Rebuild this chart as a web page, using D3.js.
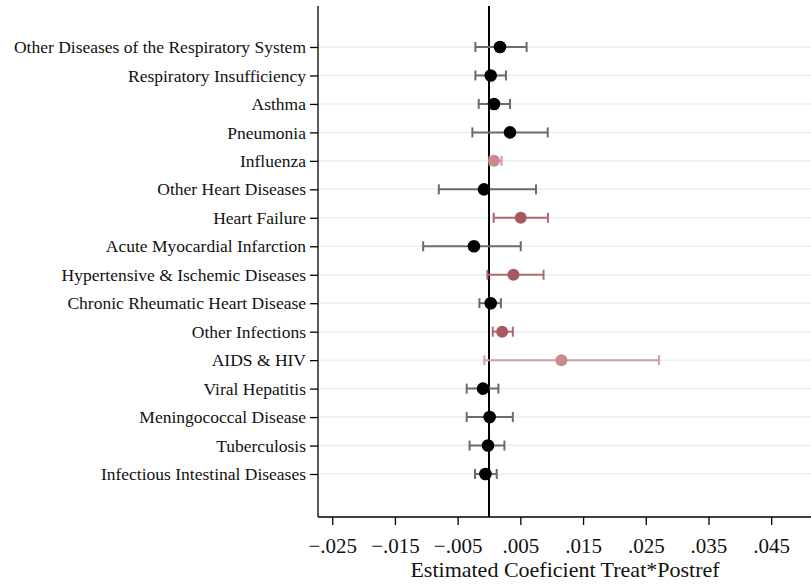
<!DOCTYPE html>
<html>
<head>
<meta charset="utf-8">
<script src="https://cdn.jsdelivr.net/npm/d3@7"></script>
<style>
  html, body { margin: 0; padding: 0; background: #fff; }
  text { font-family: "Liberation Serif", "Times New Roman", serif; }
</style>
</head>
<body>
<svg id="chart" width="811" height="584"></svg>
<script>
// Cause-of-death categories, top to bottom
const categories = [
  "Other Diseases of the Respiratory System",
  "Respiratory Insufficiency",
  "Asthma",
  "Pneumonia",
  "Influenza",
  "Other Heart Diseases",
  "Heart Failure",
  "Acute Myocardial Infarction",
  "Hypertensive & Ischemic Diseases",
  "Chronic Rheumatic Heart Disease",
  "Other Infections",
  "AIDS & HIV",
  "Viral Hepatitis",
  "Meningococcal Disease",
  "Tuberculosis",
  "Infectious Intestinal Diseases"
];

// Point estimates and confidence bounds
const estimates = [0.00175, 0.00027, 0.0008, 0.00335, 0.0008, -0.0008, 0.00506, -0.0024, 0.0039, 0.00027, 0.0021, 0.01155, -0.00096, 0.0001, -0.00016, -0.00057];
const lower     = [-0.00217, -0.00217, -0.00164, -0.00265, 0.0001, -0.0080, 0.00075, -0.0105, -0.00026, -0.00153, 0.0006, -0.00074, -0.00356, -0.00356, -0.0031, -0.00223];
const upper     = [0.0060, 0.0027, 0.00335, 0.00936, 0.0020, 0.0075, 0.0094, 0.00506, 0.0087, 0.0019, 0.0038, 0.0271, 0.0015, 0.0038, 0.00246, 0.00123];
// Significance group: 0 = not significant, 1 = significant, 2 = weakly significant
const significance = [0, 0, 0, 0, 2, 0, 1, 0, 1, 0, 1, 2, 0, 0, 0, 0];

const xTicks = [-0.025, -0.015, -0.005, 0.005, 0.015, 0.025, 0.035, 0.045];
const xTitle = "Estimated Coeficient Treat*Postref";

const pointFill = ["#000000", "#a65a5e", "#c98b90"];
const barStroke = ["#6b6b6b", "#b0696d", "#cf9ea2"];

const svg = d3.select("#chart");
const plotLeft = 318, plotRight = 811, plotTop = 6, plotBottom = 517;

const x = d3.scaleLinear().domain([-0.02727, 0.05135]).range([plotLeft, plotRight]);
const y = d3.scaleLinear().domain([-1.44, 16.51]).range([plotTop, plotBottom]);

const rows = categories.map((c, i) => ({
  cat: c, i, est: estimates[i], lo: lower[i], hi: upper[i], sig: significance[i]
}));

// Horizontal gridlines
svg.append("g").selectAll("line").data(rows).join("line")
  .attr("x1", plotLeft).attr("x2", plotRight)
  .attr("y1", d => y(d.i)).attr("y2", d => y(d.i))
  .attr("stroke", "#e9eff2").attr("stroke-width", 1.5);

// Zero reference line
svg.append("line")
  .attr("x1", x(0)).attr("x2", x(0))
  .attr("y1", plotTop).attr("y2", plotBottom)
  .attr("stroke", "#000").attr("stroke-width", 2);

// Confidence intervals
const ci = svg.append("g").selectAll("g").data(rows).join("g")
  .attr("stroke", d => barStroke[d.sig]).attr("stroke-width", 2);
ci.append("line")
  .attr("x1", d => x(d.lo)).attr("x2", d => x(d.hi))
  .attr("y1", d => y(d.i)).attr("y2", d => y(d.i));
ci.append("line")
  .attr("x1", d => x(d.lo)).attr("x2", d => x(d.lo))
  .attr("y1", d => y(d.i) - 5).attr("y2", d => y(d.i) + 5);
ci.append("line")
  .attr("x1", d => x(d.hi)).attr("x2", d => x(d.hi))
  .attr("y1", d => y(d.i) - 5).attr("y2", d => y(d.i) + 5);

// Point estimates
svg.append("g").selectAll("circle").data(rows).join("circle")
  .attr("cx", d => x(d.est)).attr("cy", d => y(d.i))
  .attr("r", d => d.sig === 0 ? 6.3 : 6)
  .attr("fill", d => pointFill[d.sig]);

// Y axis
const yAxis = d3.axisLeft(y).tickValues(rows.map(d => d.i))
  .tickFormat(i => categories[i]).tickSize(8).tickPadding(4);
const gy = svg.append("g").attr("transform", `translate(${plotLeft},0)`).call(yAxis);
gy.select(".domain").attr("d", `M0,${plotTop}V${plotBottom}`).attr("stroke-width", 1.3);
gy.selectAll(".tick line").attr("stroke-width", 1.3);
gy.selectAll(".tick text").attr("font-size", 17.5).attr("fill", "#111")
  .style("font-family", "'Liberation Serif', serif");

// X axis
const xAxis = d3.axisBottom(x).tickValues(xTicks)
  .tickFormat(v => d3.format(".3f")(v).replace("0.", ".").replace("-", "\u2212"))
  .tickSize(8).tickPadding(13);
const gx = svg.append("g").attr("transform", `translate(0,${plotBottom})`).call(xAxis);
gx.select(".domain").attr("d", `M${plotLeft},0H${plotRight}`).attr("stroke-width", 1.3);
gx.selectAll(".tick line").attr("stroke-width", 1.3);
gx.selectAll(".tick text").attr("font-size", 21).attr("fill", "#111")
  .style("font-family", "'Liberation Serif', serif");

// X axis title
svg.append("text")
  .attr("x", 565).attr("y", 577)
  .attr("text-anchor", "middle")
  .attr("font-size", 22).attr("fill", "#111")
  .text(xTitle);
</script>
</body>
</html>
